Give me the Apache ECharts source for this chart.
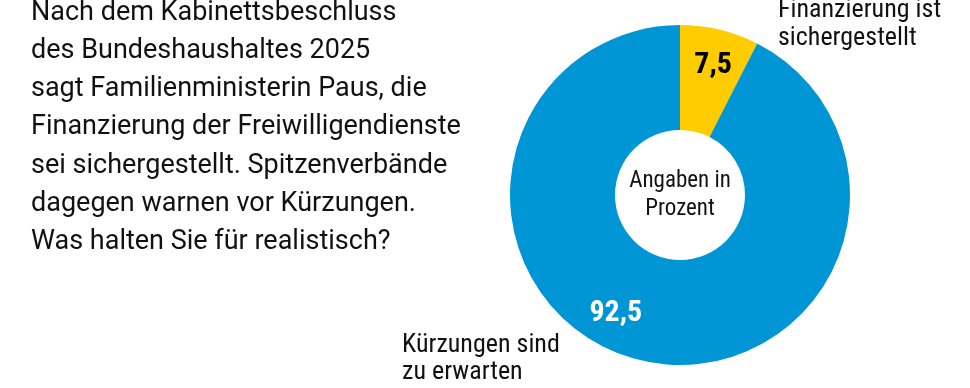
<!DOCTYPE html>
<html><head><meta charset="utf-8">
<script src="https://cdn.jsdelivr.net/npm/echarts@6/dist/echarts.min.js"></script>
<style>html,body{margin:0;padding:0;background:#fff}#c{width:970px;height:388px}</style>
</head><body><div id="c"></div>
<script>
var categories = ['Finanzierung ist\nsichergestellt', 'Kürzungen sind\nzu erwarten'];
var values = [7.5, 92.5];
var colors = ['#FFCC00', '#0096D6'];
var question = 'Nach dem Kabinettsbeschluss\ndes Bundeshaushaltes 2025\nsagt Familienministerin Paus, die\nFinanzierung der Freiwilligendienste\nsei sichergestellt. Spitzenverbände\ndagegen warnen vor Kürzungen.\nWas halten Sie für realistisch?';
var centerNote = 'Angaben in\nProzent';

var FONT = "'Roboto Condensed','Liberation Sans Narrow','DejaVu Sans Condensed',Roboto,sans-serif";
var FONT_Q = "Roboto,sans-serif";
var chart = echarts.init(document.getElementById('c'), null, {renderer:'canvas'});
function fmt(v){ return String(v).replace('.', ','); }
chart.setOption({
  animation:false,
  backgroundColor:'#fff',
  graphic:[
    {type:'text', left:31, top:-6, style:{text:question, font:'27px '+FONT_Q, lineHeight:38.2, fill:'#111'}},
    {type:'text', left:778, top:-4, style:{text:categories[0], font:'26px '+FONT, lineHeight:28, fill:'#111'}},
    {type:'text', left:402, top:332, style:{text:categories[1], font:'26px '+FONT, lineHeight:27, fill:'#111'}},
    {type:'text', x:680, y:167, style:{text:centerNote, font:'23px '+FONT, lineHeight:28, fill:'#111', align:'center'}}
  ],
  series:[{
    type:'pie',
    center:[680,195],
    radius:[65,170],
    startAngle:90,
    clockwise:true,
    silent:true,
    emphasis:{disabled:true},
    itemStyle:{borderWidth:0},
    label:{show:true, position:'inside', fontFamily:FONT, fontWeight:'bold', fontSize:30,
      formatter:function(p){return fmt(p.value);}},
    labelLine:{show:false},
    labelLayout:function(p){
      return p.dataIndex===0 ? {dx:5, dy:-12} : {dx:-36, dy:1};
    },
    data: values.map(function(v,i){
      return {value:v, name:categories[i], itemStyle:{color:colors[i]},
        label:{color: i===0 ? '#000' : '#fff', fontSize: i===0 ? 30 : 30}};
    })
  }]
});
</script></body></html>
